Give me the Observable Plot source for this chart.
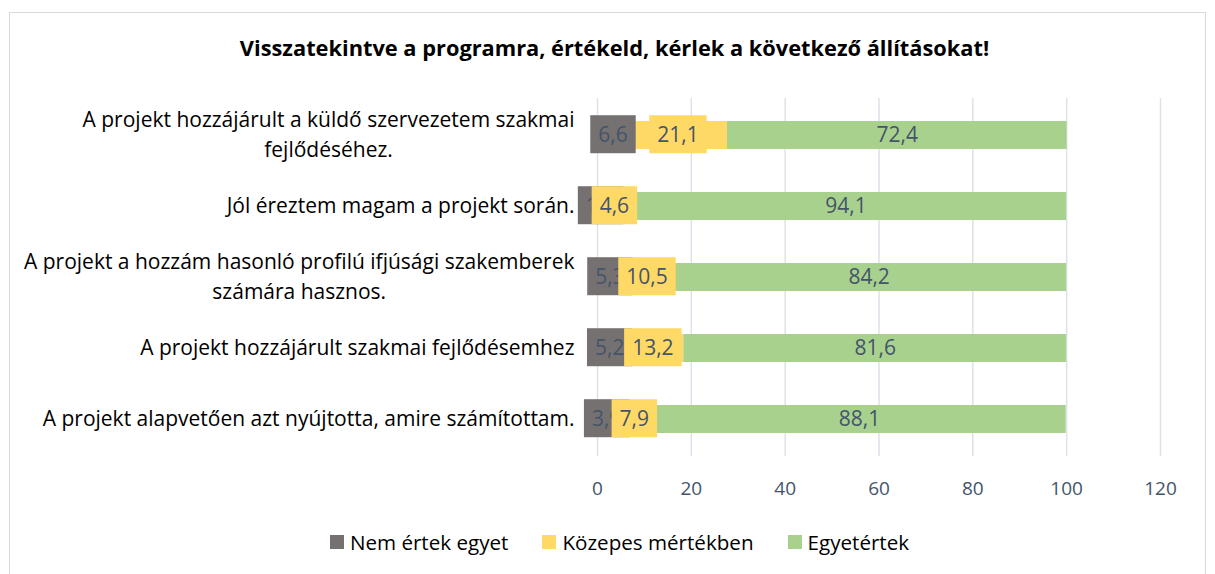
<!DOCTYPE html>
<html><head><meta charset="utf-8">
<script src="https://cdn.jsdelivr.net/npm/d3@7"></script>
<script src="https://cdn.jsdelivr.net/npm/@observablehq/plot@0.6"></script>
<style>
body{margin:0;background:#fff;font-family:"Open Sans","Noto Sans",sans-serif;}
#wrap{position:relative;width:1215px;height:574px;overflow:hidden;background:#fff;}
#frame{position:absolute;left:9px;top:12px;width:1197px;height:580px;border:1px solid #d9d9d9;box-sizing:border-box;}
#title{position:absolute;top:33px;left:0;width:1229px;text-align:center;font-weight:bold;font-size:21.8px;color:#000;}
#chart{position:absolute;top:79px;left:0;}
#legend{position:absolute;top:528px;left:0;width:1239px;display:flex;justify-content:center;font-size:20.6px;color:#000;}
.item{display:flex;align-items:center;margin:0 17px;}
.sw{width:14px;height:14px;margin-right:6px;}
</style>
</head><body>
<div id="wrap">
<div id="frame"></div>
<div id="title">Visszatekintve a programra, értékeld, kérlek a következő állításokat!</div>
<div id="chart"></div>
<div id="legend"></div>
</div>
<script>
const categories = [
  "A projekt hozzájárult a küldő szervezetem szakmai\nfejlődéséhez.",
  "Jól éreztem magam a projekt során.",
  "A projekt a hozzám hasonló profilú ifjúsági szakemberek\nszámára hasznos.",
  "A projekt hozzájárult szakmai fejlődésemhez",
  "A projekt alapvetően azt nyújtotta, amire számítottam."
];
const seriesNames = ["Nem értek egyet", "Közepes mértékben", "Egyetértek"];
const nemErtek = [6.6, 1.3, 5.3, 5.2, 3.9];
const kozepes = [21.1, 4.6, 10.5, 13.2, 7.9];
const egyetert = [72.4, 94.1, 84.2, 81.6, 88.1];
const xTicks = [0, 20, 40, 60, 80, 100, 120];
const colors = ["#767171", "#FFD966", "#A9D18E"];

const seriesValues = [nemErtek, kozepes, egyetert];
const table = [];
categories.forEach((c, i) => {
  let acc = 0;
  seriesValues.forEach((vals, s) => {
    const v = vals[i];
    table.push({cat: c, series: seriesNames[s], value: v, x1: acc, x2: acc + v, mid: acc + v / 2, s});
    acc += v;
  });
});
const fmt = v => v.toFixed(1).replace(".", ",");

const plot = Plot.plot({
  width: 1215,
  height: 431,
  marginLeft: 597,
  marginRight: 55,
  marginTop: 19,
  marginBottom: 54,
  style: {fontFamily: "'Open Sans', 'Noto Sans', sans-serif", background: "transparent"},
  x: {domain: [0, 120], axis: null},
  y: {domain: categories, paddingInner: 0.6, paddingOuter: 0.3, axis: null},
  color: {domain: seriesNames, range: colors},
  marks: [
    Plot.ruleX(xTicks, {stroke: "#dde2ea", strokeWidth: 1.5}),
    Plot.barX(table, {x1: "x1", x2: "x2", y: "cat", fill: "series"}),
    Plot.text(table.filter(d => d.s === 0), {x: "mid", y: "cat", text: d => fmt(d.value), fill: "#44546A", fontSize: 21, className: "lbl-box-0"}),
    Plot.text(table.filter(d => d.s === 1), {x: "mid", y: "cat", text: d => fmt(d.value), fill: "#44546A", fontSize: 21, className: "lbl-box-1"}),
    Plot.text(table.filter(d => d.s === 2), {x: "mid", y: "cat", text: d => fmt(d.value), fill: "#44546A", fontSize: 21}),
    Plot.axisX({ticks: xTicks, tickSize: 0, tickPadding: 25, fontSize: 19, fill: "#44546A", label: null}),
    Plot.axisY({tickSize: 0, tickPadding: 23, fontSize: 21, fill: "#000", label: null, lineHeight: 1.43, dy: -3, tickFormat: d => d})
  ]
});
document.getElementById("chart").appendChild(plot);

// label background boxes (Excel-style filled data labels)
[0, 1].forEach(s => {
  d3.select(plot).selectAll(`g.lbl-box-${s} text`).each(function() {
    const b = this.getBBox();
    const cy = b.y + b.height / 2;
    const ctm = this.getAttribute("transform");
    const r = document.createElementNS("http://www.w3.org/2000/svg", "rect");
    r.setAttribute("x", b.x - 8);
    r.setAttribute("width", b.width + 16);
    r.setAttribute("y", cy - 19);
    r.setAttribute("height", 38);
    r.setAttribute("fill", colors[s]);
    if (ctm) r.setAttribute("transform", ctm);
    this.parentNode.insertBefore(r, this);
  });
});

// center multi-line category labels like Excel
d3.select(plot).selectAll("g[aria-label='y-axis tick label'] text").each(function() {
  const b = this.getBBox();
  if (this.querySelectorAll("tspan").length > 1) {
    this.setAttribute("text-anchor", "middle");
    const tr = this.getAttribute("transform") || "";
    this.setAttribute("transform", tr + ` translate(${-b.width / 2},0)`);
  }
});

const leg = document.getElementById("legend");
seriesNames.forEach((n, i) => {
  const it = document.createElement("div");
  it.className = "item";
  it.innerHTML = `<div class="sw" style="background:${colors[i]}"></div><span>${n}</span>`;
  leg.appendChild(it);
});
</script>
</body></html>
